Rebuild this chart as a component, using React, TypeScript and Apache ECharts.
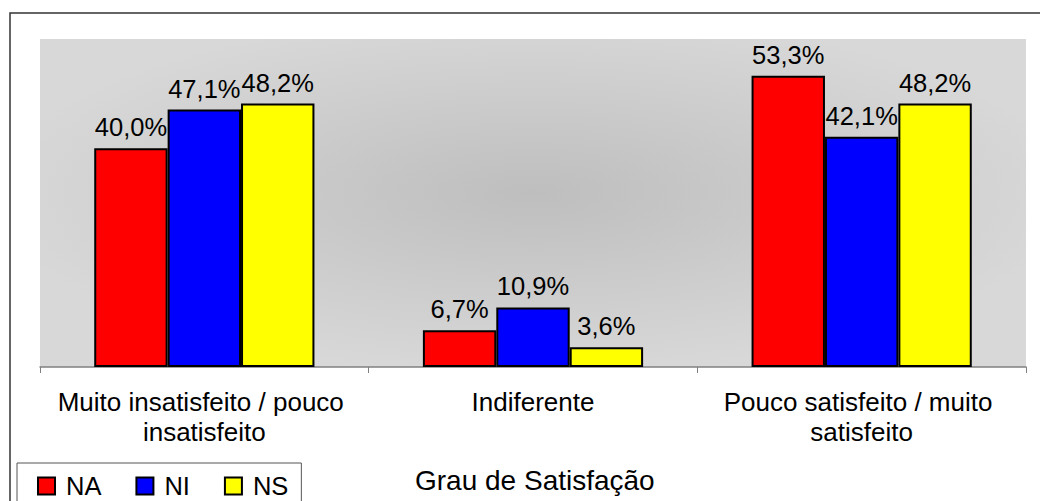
import React, { useEffect, useRef } from "react";
import * as echarts from "echarts";

const categories = [
  "Muito insatisfeito / pouco insatisfeito",
  "Indiferente",
  "Pouco satisfeito / muito satisfeito",
];
const seriesNames = ["NA", "NI", "NS"];
const valuesNA = [40.0, 6.7, 53.3];
const valuesNI = [47.1, 10.9, 42.1];
const valuesNS = [48.2, 3.6, 48.2];
const seriesColors = ["#FF0000", "#0000FF", "#FFFF00"];
const axisTitle = "Grau de Satisfação";

const FONT = "'Liberation Sans', Arial, sans-serif";

export default function App() {
  const ref = useRef<HTMLDivElement>(null);
  useEffect(() => {
    document.body.style.margin = "0";
    const chart = echarts.init(ref.current!, null, { renderer: "svg" });
    const allValues = [valuesNA, valuesNI, valuesNS];
    const fmt = (p: any) => p.value.toFixed(1).replace(".", ",") + "%";
    chart.setOption({
      animation: false,
      backgroundColor: "#ffffff",
      textStyle: { fontFamily: FONT },
      grid: {
        left: 40,
        right: 14,
        top: 39,
        bottom: 134,
        show: true,
        borderWidth: 0,
        backgroundColor: new echarts.graphic.RadialGradient(0.5, 0.47, 0.55, [
          { offset: 0, color: "#bebebe" },
          { offset: 0.6, color: "#cecece" },
          { offset: 1, color: "#d8d8d8" },
        ]),
      },
      graphic: [
        {
          type: "rect",
          shape: { x: 10, y: 13, width: 1200, height: 700 },
          style: { fill: "none", stroke: "#333", lineWidth: 1.5 },
          silent: true,
          z: 100,
        },
      ],
      title: {
        text: axisTitle,
        left: 415,
        top: 466,
        padding: 0,
        textStyle: {
          fontFamily: FONT,
          fontSize: 28,
          fontWeight: "normal",
          color: "#000",
        },
      },
      legend: {
        left: 17,
        top: 463,
        orient: "horizontal",
        padding: [10, 13, 14, 20],
        itemGap: 34,
        itemWidth: 17,
        itemHeight: 17,
        borderColor: "#555",
        borderWidth: 1,
        borderRadius: 0,
        icon: "rect",
        textStyle: {
          fontFamily: FONT,
          fontSize: 25.5,
          color: "#000",
          padding: [0, 0, 0, 6],
        },
        data: seriesNames,
      },
      xAxis: {
        type: "category",
        data: categories,
        axisLine: { lineStyle: { color: "#808080", width: 1.5 } },
        axisTick: { show: true, length: 6, lineStyle: { color: "#808080" } },
        axisLabel: {
          interval: 0,
          margin: 20,
          color: "#000",
          fontFamily: FONT,
          fontSize: 26,
          lineHeight: 30,
          width: 310,
          overflow: "break",
          align: "center",
        },
      },
      yAxis: {
        type: "value",
        min: 0,
        max: 60,
        show: false,
        splitLine: { show: false },
      },
      series: seriesNames.map((name, i) => ({
        name,
        type: "bar",
        data: allValues[i],
        barGap: "0%",
        barCategoryGap: "33%",
        itemStyle: {
          color: seriesColors[i],
          borderColor: "#000",
          borderWidth: 2,
        },
        label: {
          show: true,
          position: "top",
          distance: 8,
          formatter: fmt,
          color: "#000",
          fontFamily: FONT,
          fontSize: 25.5,
        },
      })),
    });
    return () => chart.dispose();
  }, []);
  return <div ref={ref} style={{ width: 1040, height: 501 }} />;
}
